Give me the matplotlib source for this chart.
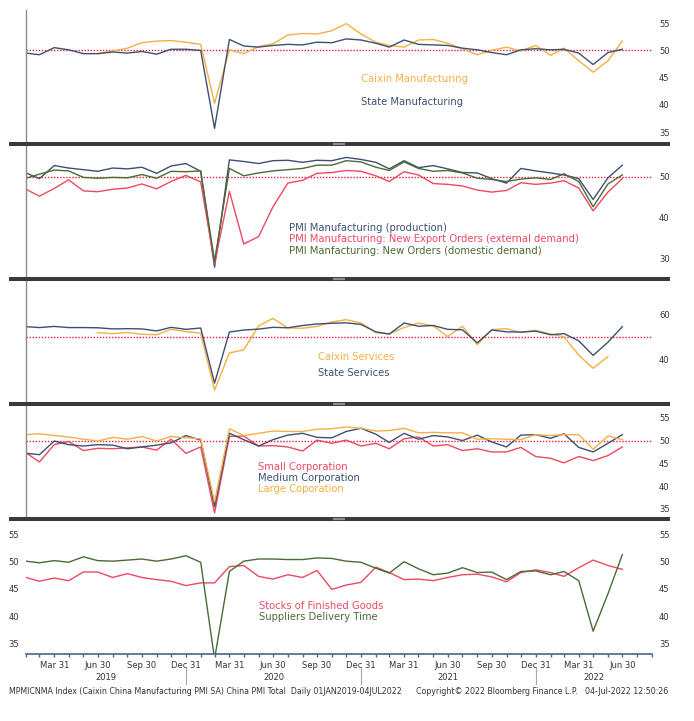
import numpy as np
import pandas as pd
import matplotlib
matplotlib.use('Agg')
import matplotlib.pyplot as plt
from matplotlib.lines import Line2D
from matplotlib.transforms import blended_transform_factory

W, H = 694, 721
plt.rcParams['font.family'] = ['DejaVu Sans']
plt.rcParams['font.stretch'] = 'condensed'

# ---------------- data (monthly, month-end) ----------------
dates = pd.date_range('2019-01-31', periods=42, freq='ME')

caixin_mfg = [49.4, 49.9, 50.4, 51.4, 51.7, 51.8, 51.5,
              51.1, 40.3, 50.1, 49.4, 50.7, 51.2, 52.8, 53.1, 53.0, 53.6, 54.9, 53.0,
              51.5, 50.9, 50.6, 51.9, 52.0, 51.3, 50.3, 49.2, 50.0, 50.6, 49.9, 50.9,
              49.1, 50.4, 48.1, 46.0, 48.1, 51.7]          # Jun 2019 - Jun 2022
state_mfg = [49.5, 49.2, 50.5, 50.1, 49.4, 49.4, 49.7, 49.5, 49.8, 49.3, 50.2, 50.2,
             50.0, 35.7, 52.0, 50.8, 50.6, 50.9, 51.1, 51.0, 51.5, 51.4, 52.1, 51.9,
             51.3, 50.6, 51.9, 51.1, 51.0, 50.9, 50.4, 50.1, 49.6, 49.2, 50.1, 50.3,
             50.1, 50.2, 49.5, 47.4, 49.6, 50.2]

production = [50.9, 49.5, 52.7, 52.1, 51.7, 51.3, 52.1, 51.9, 52.3, 50.8, 52.6, 53.2,
              51.3, 27.8, 54.1, 53.7, 53.2, 53.9, 54.0, 53.5, 54.0, 53.9, 54.7, 54.2,
              53.5, 51.9, 53.9, 52.2, 52.7, 51.9, 51.0, 50.9, 49.5, 48.4, 52.0, 51.4,
              50.9, 50.4, 49.5, 44.4, 49.7, 52.8]
export_orders = [46.9, 45.2, 47.1, 49.2, 46.5, 46.3, 46.9, 47.2, 48.2, 47.0, 48.8, 50.3,
                 48.7, 28.7, 46.4, 33.5, 35.3, 42.6, 48.4, 49.1, 50.8, 51.0, 51.5, 51.3,
                 50.2, 48.8, 51.2, 50.4, 48.3, 48.1, 47.7, 46.7, 46.2, 46.6, 48.5, 48.1,
                 48.4, 49.0, 47.2, 41.6, 46.2, 49.5]
new_orders = [49.6, 50.6, 51.6, 51.4, 49.8, 49.6, 49.8, 49.7, 50.5, 49.6, 51.3, 51.2,
              51.4, 29.3, 52.0, 50.2, 50.9, 51.4, 51.7, 52.0, 52.8, 52.8, 53.9, 53.6,
              52.3, 51.5, 53.6, 52.0, 51.3, 51.5, 50.9, 49.6, 49.3, 48.8, 49.4, 49.7,
              49.3, 50.7, 48.8, 42.6, 48.2, 50.4]

caixin_srv = [52.0, 51.6, 52.1, 51.3, 51.1, 53.5, 52.5,
              51.8, 26.5, 43.0, 44.4, 55.0, 58.4, 54.1, 54.0, 54.8, 56.8, 57.8, 56.3,
              52.0, 51.5, 54.3, 56.3, 55.1, 50.3, 54.9, 46.7, 53.4, 53.8, 52.1, 53.1,
              51.4, 50.2, 42.0, 36.2, 41.4]                # Jun 2019 - May 2022
state_srv = [54.7, 54.3, 54.8, 54.3, 54.3, 54.2, 53.7, 53.8, 53.7, 52.8, 54.4, 53.5,
             54.1, 29.6, 52.3, 53.2, 53.6, 54.4, 54.2, 55.2, 55.9, 56.2, 56.4, 55.7,
             52.4, 51.4, 56.3, 54.9, 55.2, 53.5, 53.3, 47.5, 53.2, 52.4, 52.3, 52.7,
             51.1, 51.6, 48.4, 41.9, 47.8, 54.7]

small_corp = [47.3, 45.3, 49.1, 49.8, 47.8, 48.3, 48.2, 48.4, 48.6, 47.9, 50.3, 47.2,
              48.6, 34.1, 50.9, 51.0, 48.8, 48.9, 48.6, 47.7, 50.1, 49.4, 50.1, 48.8,
              49.4, 48.2, 50.4, 50.8, 48.8, 49.1, 47.8, 48.2, 47.5, 47.5, 48.5, 46.5,
              46.1, 45.1, 46.5, 45.6, 46.7, 48.6]
medium_corp = [47.2, 46.9, 49.9, 49.1, 48.8, 49.1, 49.0, 48.2, 48.6, 49.0, 49.5, 51.1,
               50.1, 35.5, 51.6, 50.2, 48.8, 50.2, 51.2, 51.6, 50.7, 50.6, 52.0, 52.7,
               51.4, 49.6, 51.6, 50.3, 51.1, 50.8, 50.0, 51.2, 49.7, 48.6, 51.2, 51.3,
               50.5, 51.5, 48.5, 47.5, 49.4, 51.3]
large_corp = [51.3, 51.5, 51.1, 50.8, 50.3, 49.9, 50.7, 50.3, 50.9, 49.9, 50.9, 50.6,
              50.4, 36.5, 52.6, 51.1, 51.6, 52.1, 52.0, 52.0, 52.5, 52.6, 53.0, 52.7,
              52.1, 52.2, 52.7, 51.7, 51.8, 51.7, 51.7, 50.3, 50.4, 50.3, 50.2, 51.3,
              51.1, 51.3, 51.3, 48.1, 51.0, 50.2]

stocks_fg = [47.1, 46.4, 47.0, 46.5, 48.1, 48.1, 47.1, 47.8, 47.1, 46.7, 46.4, 45.6,
             46.1, 46.1, 49.1, 49.3, 47.3, 46.8, 47.6, 47.1, 48.4, 44.9, 45.7, 46.2,
             49.0, 48.0, 46.7, 46.8, 46.5, 47.1, 47.6, 47.7, 47.2, 46.3, 48.0, 48.5,
             48.0, 47.3, 48.9, 50.3, 49.3, 48.6]
supplier_dt = [50.1, 49.8, 50.2, 49.9, 50.9, 50.2, 50.1, 50.3, 50.5, 50.1, 50.5, 51.1,
               49.9, 32.1, 48.2, 50.1, 50.5, 50.5, 50.4, 50.4, 50.7, 50.6, 50.1, 49.9,
               48.8, 47.9, 50.0, 48.7, 47.6, 47.9, 48.9, 48.0, 48.1, 46.7, 48.2, 48.3,
               47.6, 48.2, 46.5, 37.2, 44.1, 51.3]

# ---------------- style ----------------
ORANGE = '#F5B043'
SLATE = '#3E5070'
RED = '#EE4862'
GREEN = '#4B6B35'
DOT = '#E0203C'
TXT = '#333333'

fig = plt.figure(figsize=(W / 100, H / 100), dpi=100)
fig.patch.set_facecolor('white')
renderer = fig.canvas.get_renderer()


def fit_size(s, target_px, base=10.0):
    t = fig.text(0, 0, s, fontsize=base)
    w = t.get_window_extent(renderer=renderer).width
    t.remove()
    return base * target_px / w


LAB_FS = fit_size('PMI Manufacturing: New Export Orders (external demand)', 281) * 1.04
TICK_FS = fit_size('Mar 31', 27) * 1.08
FOOT_FS = fit_size('MPMICNMA Index (Caixin China Manufacturing PMI SA) China PMI Total  Daily 01JAN2019-04JUL2022', 394)


def fx(px):
    return px / W


def fy(px):
    return 1 - px / H


X0, X1 = 26, 652
XMIN, XMAX = pd.Timestamp('2019-01-31'), pd.Timestamp('2022-08-31')


def make_ax(top, bottom, ylim, yticks, left_labels=False, frame_left=True):
    ax = fig.add_axes([fx(X0), fy(bottom), (X1 - X0) / W, (bottom - top) / H])
    ax.set_xlim(XMIN, XMAX)
    ax.set_ylim(*ylim)
    ax.set_yticks(yticks)
    ax.yaxis.set_ticks_position('right')
    ax.tick_params(axis='y', length=0, pad=5, labelsize=TICK_FS, labelcolor=TXT,
                   labelright=True, labelleft=left_labels)
    for s in ['top', 'right', 'bottom']:
        ax.spines[s].set_visible(False)
    if frame_left:
        ax.spines['left'].set_color('#8c8c8c')
        ax.spines['left'].set_linewidth(1.0)
    else:
        ax.spines['left'].set_visible(False)
    ax.patch.set_alpha(0)
    return ax


def lab(px, py, s, c):
    fig.text(fx(px), fy(py), s, color=c, fontsize=LAB_FS, ha='left', va='center')


def ref50(ax):
    ax.axhline(50, color=DOT, lw=1.0, ls=(0, (1, 1.2)), zorder=1)


LW = 1.0

# panel 1
ax1 = make_ax(10, 142, (33.2, 57.4), [35, 40, 45, 50, 55])
ax1.set_xticks([])
ref50(ax1)
ax1.plot(dates[5:], caixin_mfg, color=ORANGE, lw=LW)
ax1.plot(dates, state_mfg, color=SLATE, lw=LW)
lab(361, 78.5, 'Caixin Manufacturing', ORANGE)
lab(361, 102, 'State Manufacturing', SLATE)

# panel 2
ax2 = make_ax(146, 277, (25.4, 57.5), [30, 40, 50])
ax2.set_xticks([])
ref50(ax2)
ax2.plot(dates, production, color=SLATE, lw=LW)
ax2.plot(dates, export_orders, color=RED, lw=LW)
ax2.plot(dates, new_orders, color=GREEN, lw=LW)
lab(289, 227.7, 'PMI Manufacturing (production)', SLATE)
lab(289, 239.2, 'PMI Manufacturing: New Export Orders (external demand)', RED)
lab(289, 250.8, 'PMI Manfacturing: New Orders (domestic demand)', GREEN)

# panel 3
ax3 = make_ax(281, 402, (21.2, 75.0), [40, 60])
ax3.set_xticks([])
ref50(ax3)
ax3.plot(dates[5:41], caixin_srv, color=ORANGE, lw=LW)
ax3.plot(dates, state_srv, color=SLATE, lw=LW)
lab(318, 357.3, 'Caixin Services', ORANGE)
lab(318, 373, 'State Services', SLATE)

# panel 4
ax4 = make_ax(406, 517, (33.2, 57.6), [35, 40, 45, 50, 55])
ax4.set_xticks([])
ref50(ax4)
ax4.plot(dates, small_corp, color=RED, lw=LW)
ax4.plot(dates, medium_corp, color=SLATE, lw=LW)
ax4.plot(dates, large_corp, color=ORANGE, lw=LW)
lab(258, 466.8, 'Small Corporation', RED)
lab(258, 478.3, 'Medium Corporation', SLATE)
lab(258, 489.5, 'Large Coporation', ORANGE)

# panel 5
ax5 = make_ax(521, 654, (33.0, 57.5), [35, 40, 45, 50, 55], left_labels=True, frame_left=False)
ax5.tick_params(axis='y', which='both', left=False, right=False)
ax5.spines['bottom'].set_visible(True)
ax5.spines['bottom'].set_color('#4A6585')
ax5.spines['bottom'].set_linewidth(1.2)
ax5.plot(dates, stocks_fg, color=RED, lw=LW)
ax5.plot(dates, supplier_dt, color=GREEN, lw=LW)
lab(259, 606.3, 'Stocks of Finished Goods', RED)
lab(259, 617.3, 'Suppliers Delivery Time', GREEN)

tick_dates = pd.date_range('2019-01-31', '2022-08-31', freq='ME')
tick_labels = [f"{d:%b} {d.day}" if d.month in (3, 6, 9, 12) else '' for d in tick_dates]
ax5.set_xticks(tick_dates)
ax5.set_xticklabels(tick_labels)
ax5.tick_params(axis='x', length=2.2, width=1.0, color='#4A6585', direction='out',
                pad=2.5, labelsize=TICK_FS, labelcolor=TXT)

# year labels and separators
tr = blended_transform_factory(ax5.transData, fig.transFigure)
year_spans = [('2019', XMIN, pd.Timestamp('2019-12-31')),
              ('2020', pd.Timestamp('2019-12-31'), pd.Timestamp('2020-12-31')),
              ('2021', pd.Timestamp('2020-12-31'), pd.Timestamp('2021-12-31')),
              ('2022', pd.Timestamp('2021-12-31'), XMAX)]
for name, a, b in year_spans:
    mid = a + (b - a) / 2
    ax5.text(mid, fy(677), name, transform=tr, ha='center', va='center',
             fontsize=TICK_FS, color=TXT, clip_on=False)
for d in ['2019-12-31', '2020-12-31', '2021-12-31']:
    ax5.add_line(Line2D([pd.Timestamp(d)] * 2, [fy(668), fy(684)], transform=tr,
                        color='#a8a8a8', lw=0.8, clip_on=False))

# separator bars between panels
for yb in [143.5, 278.5, 403.5, 518.5]:
    fig.add_artist(Line2D([fx(9), fx(670)], [fy(yb), fy(yb)], color='#3a3a3a', lw=2.9,
                          solid_capstyle='butt'))
    fig.add_artist(Line2D([fx(333), fx(345)], [fy(yb), fy(yb)], color='#8e8e8e', lw=1.6,
                          solid_capstyle='butt'))

# footer
fig.text(fx(9), fy(691), 'MPMICNMA Index (Caixin China Manufacturing PMI SA) China PMI Total  Daily 01JAN2019-04JUL2022',
         fontsize=FOOT_FS, color=TXT, ha='left', va='center')
fig.text(fx(416), fy(691), 'Copyright\u00a9 2022 Bloomberg Finance L.P.',
         fontsize=FOOT_FS, color=TXT, ha='left', va='center')
fig.text(fx(668), fy(691), '04-Jul-2022 12:50:26',
         fontsize=FOOT_FS, color=TXT, ha='right', va='center')

fig.savefig('out.png', dpi=100, facecolor='white')
